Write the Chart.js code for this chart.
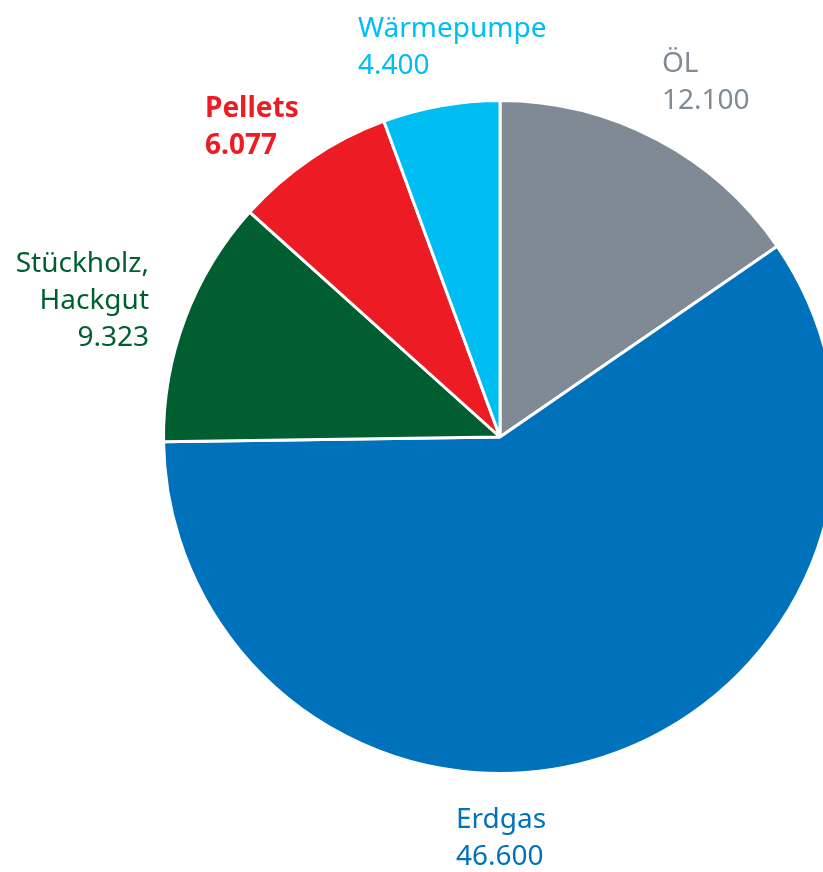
<!DOCTYPE html>
<html>
<head>
<meta charset="utf-8">
<script src="https://cdn.jsdelivr.net/npm/chart.js@4/dist/chart.umd.min.js"></script>
<style>
  html, body { margin: 0; padding: 0; background: #fff; overflow: hidden; width: 823px; height: 872px; }
  canvas { display: block; }
</style>
</head>
<body>
<canvas id="pie" width="1000" height="872"></canvas>
<script>
const categories = ['ÖL', 'Erdgas', 'Stückholz, Hackgut', 'Pellets', 'Wärmepumpe'];
const values = [12100, 46600, 9323, 6077, 4400];
const valueLabels = ['12.100', '46.600', '9.323', '6.077', '4.400'];
const colors = ['#7f8a94', '#0072bc', '#005e30', '#ed1c24', '#00bdf2'];

// label lines, alignment and offset from the pie centre
const labelLayout = [
  { lines: ['ÖL', valueLabels[0]], align: 'left', dx: 162, dy: -365, bold: false },
  { lines: ['Erdgas', valueLabels[1]], align: 'left', dx: -44, dy: 391, bold: false },
  { lines: ['Stückholz,', 'Hackgut', valueLabels[2]], align: 'right', dx: -351, dy: -165, bold: false },
  { lines: ['Pellets', valueLabels[3]], align: 'left', dx: -295, dy: -320, bold: true },
  { lines: ['Wärmepumpe', valueLabels[4]], align: 'left', dx: -142, dy: -400, bold: false }
];

const outsideLabels = {
  id: 'outsideLabels',
  afterDraw(chart) {
    const ctx = chart.ctx;
    const arc = chart.getDatasetMeta(0).data[0];
    const cx = arc.x, cy = arc.y;
    ctx.save();
    ctx.textBaseline = 'alphabetic';
    labelLayout.forEach((l, i) => {
      ctx.fillStyle = colors[i];
      ctx.textAlign = l.align;
      ctx.font = (l.bold ? 'bold ' : '') + '28px "Noto Sans"';
      l.lines.forEach((t, j) => {
        ctx.fillText(t, cx + l.dx, cy + l.dy + j * 37);
      });
    });
    ctx.restore();
  }
};

new Chart(document.getElementById('pie'), {
  type: 'pie',
  data: {
    labels: categories,
    datasets: [{
      data: values,
      backgroundColor: colors,
      borderColor: '#ffffff',
      borderWidth: 3
    }]
  },
  options: {
    responsive: false,
    animation: false,
    layout: { padding: { left: 162, right: 162, top: 99, bottom: 97 } },
    plugins: {
      legend: { display: false },
      tooltip: { enabled: false }
    }
  },
  plugins: [outsideLabels]
});
</script>
</body>
</html>
